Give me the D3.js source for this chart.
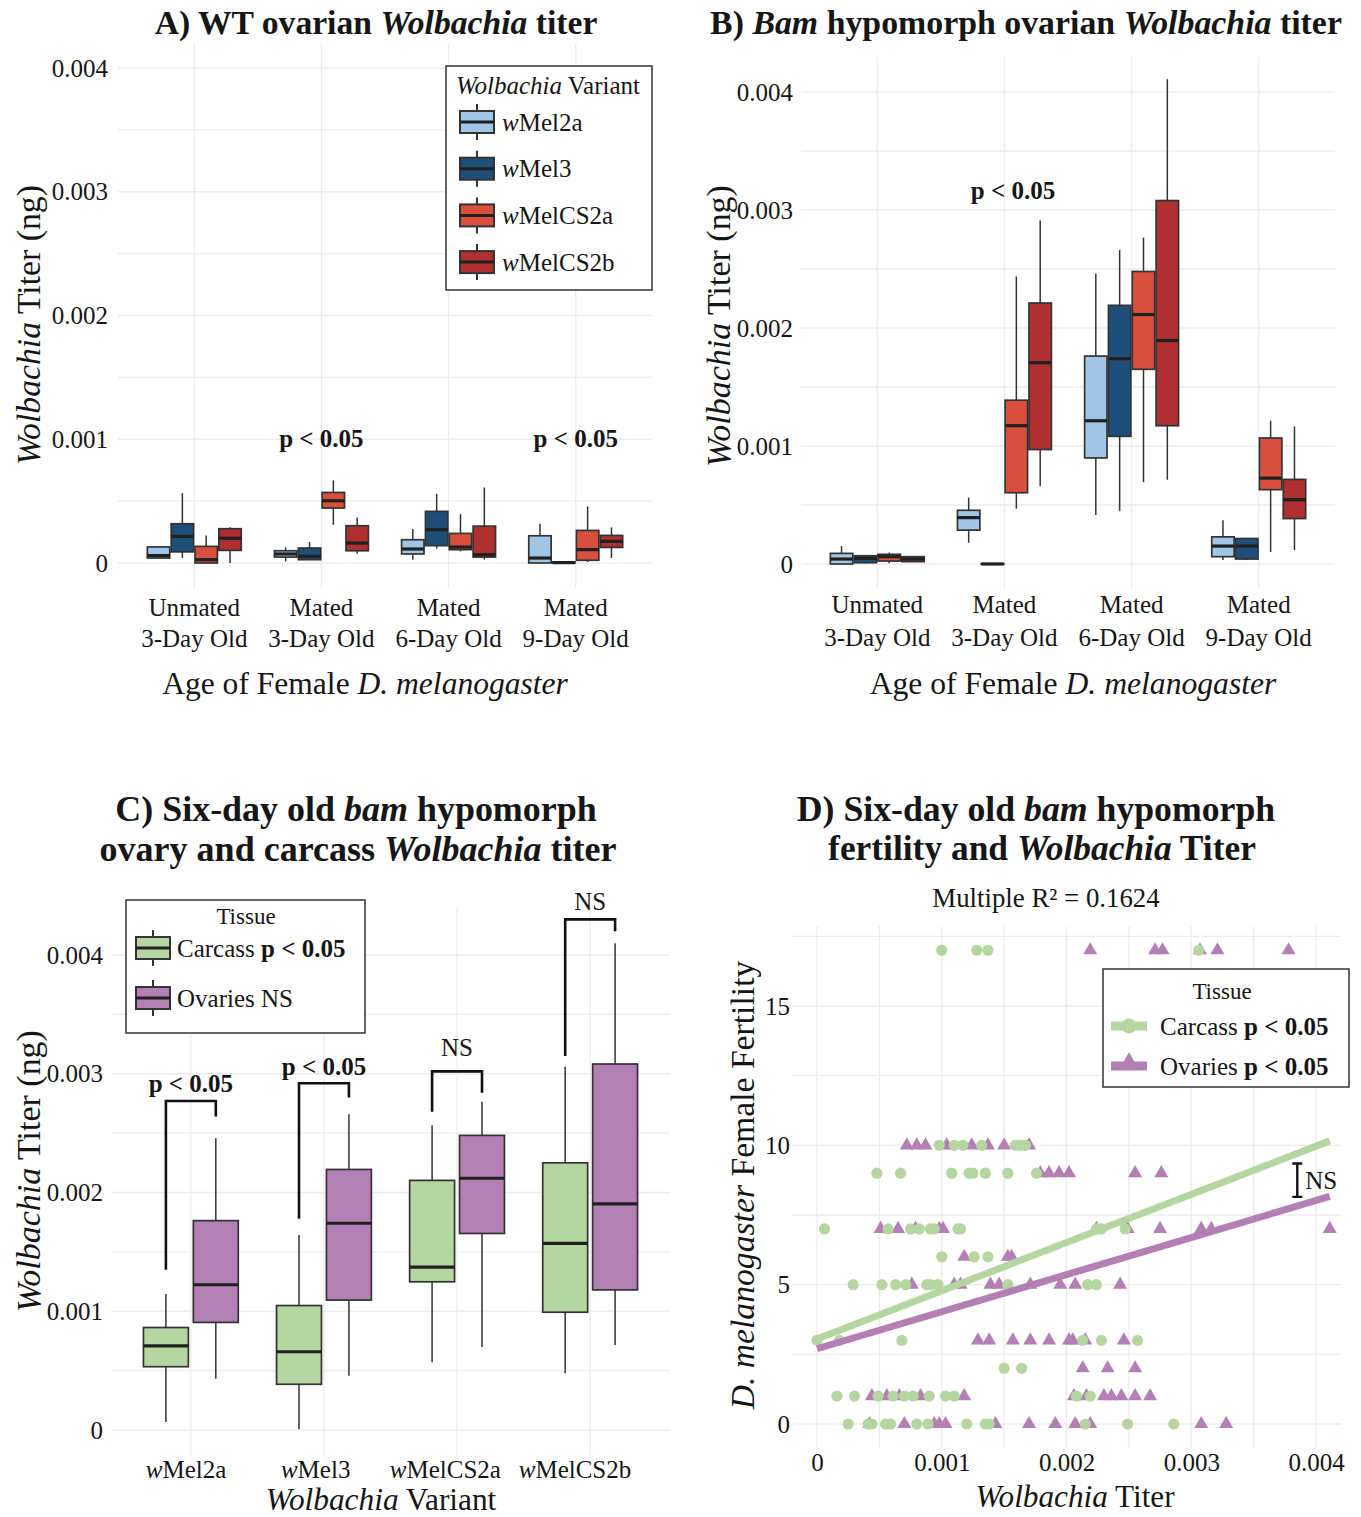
<!DOCTYPE html>
<html>
<head>
<meta charset="utf-8">
<script src="https://cdn.jsdelivr.net/npm/d3@7"></script>
<style>
  body { margin: 0; background: #fff; }
  svg { display: block; }
</style>
</head>
<body>
<script>
// ---- data ----
const ageLabels = [["Unmated", "3-Day Old"], ["Mated", "3-Day Old"], ["Mated", "6-Day Old"], ["Mated", "9-Day Old"]];
const variants = ["wMel2a", "wMel3", "wMelCS2a", "wMelCS2b"];
const tissues = ["Carcass", "Ovaries"];
const titerTicks = [0, 0.001, 0.002, 0.003, 0.004];
const fertilityTicks = [0, 5, 10, 15];

// box stats per variant: [lower whisker, q1, median, q3, upper whisker] (ng)
const wtUnmated3 = [
  [0.00004, 0.00004, 0.00006, 0.00013, 0.00013],
  [0.00004, 0.00009, 0.000215, 0.000317, 0.000565],
  [0, 0, 0.000027, 0.000134, 0.000223],
  [0, 0.000102, 0.0002, 0.000277, 0.000288]
];
const wtMated3 = [
  [0.000013, 0.000048, 0.000073, 0.000099, 0.000126],
  [0.000027, 0.000027, 0.000054, 0.000121, 0.000169],
  [0.000309, 0.000444, 0.000503, 0.00057, 0.000667],
  [0.000075, 0.000099, 0.000161, 0.000301, 0.000368]
];
const wtMated6 = [
  [0.000027, 0.000073, 0.000113, 0.000188, 0.000274],
  [0.000116, 0.00014, 0.000269, 0.000417, 0.000559],
  [0.000094, 0.000108, 0.000129, 0.000239, 0.000395],
  [0.000027, 0.000048, 0.000067, 0.000298, 0.00061]
];
const wtMated9 = [
  [0, 0, 0.00004, 0.00022, 0.000317],
  [0, 0, 0.000003, 0.000008, 0.000008],
  [0.000008, 0.000022, 0.000108, 0.000263, 0.000457],
  [0.00004, 0.000126, 0.000175, 0.000223, 0.000288]
];

const bamUnmated3 = [
  [0, 0, 0.000042, 0.00009, 0.000152],
  [0.000005, 0.000011, 0.000048, 0.00007, 0.00007],
  [0.000006, 0.000025, 0.000062, 0.000082, 0.000098],
  [0.00002, 0.00002, 0.000042, 0.000062, 0.000062]
];
const bamMated3 = [
  [0.00018, 0.000287, 0.000393, 0.000455, 0.000562],
  [0, 0, 0, 0.000003, 0.000003],
  [0.000469, 0.000604, 0.001172, 0.001388, 0.002437],
  [0.000658, 0.00097, 0.001706, 0.002212, 0.002912]
];
const bamMated6 = [
  [0.000416, 0.000899, 0.001214, 0.001762, 0.002462],
  [0.00045, 0.001082, 0.00174, 0.002192, 0.002662],
  [0.000694, 0.00165, 0.002114, 0.002479, 0.002766],
  [0.000714, 0.001172, 0.001894, 0.00308, 0.004109]
];
const bamMated9 = [
  [0.000034, 0.000062, 0.000152, 0.00023, 0.000371],
  [0.000034, 0.000042, 0.000152, 0.000216, 0.000216],
  [0.000101, 0.00063, 0.000728, 0.001068, 0.001214],
  [0.000118, 0.000385, 0.000545, 0.000717, 0.001166]
];

// panel C, per variant
const carcassStats = [
  [0.000068, 0.000533, 0.000709, 0.000863, 0.001146],
  [0.000006, 0.000385, 0.000659, 0.001048, 0.001643],
  [0.00057, 0.001248, 0.001371, 0.002102, 0.002567],
  [0.000478, 0.000992, 0.001572, 0.00225, 0.00306]
];
const ovaryStats = [
  [0.000431, 0.000906, 0.001223, 0.001763, 0.002456],
  [0.000456, 0.001094, 0.001741, 0.002194, 0.002659],
  [0.0007, 0.001655, 0.00212, 0.002481, 0.002764],
  [0.000715, 0.00118, 0.001904, 0.003082, 0.004099]
];
const cTestLabels = ["p < 0.05", "p < 0.05", "NS", "NS"];
const cBracketTop = [0.00277, 0.00292, 0.00302, 0.0043];
const cBracketLeftEnd = [0.00135, 0.00178, 0.00268, 0.00315];
const cBracketRightEnd = [0.00264, 0.0028, 0.00284, 0.0042];
const cLabelAt = [0.00292, 0.00306, 0.003225, 0.00445];

// panel D: titers (ng) for each fertility level
const fertilityLevels = [17, 10, 9, 7, 6, 5, 3, 2, 1, 0];
const carcassTiters = [
  [0.00100, 0.00128, 0.00137, 0.00306],
  [0.00098, 0.00110, 0.00117, 0.00132, 0.00159, 0.00163, 0.00167],
  [0.00048, 0.00067, 0.00108, 0.00122, 0.00125, 0.00135, 0.00153, 0.00176],
  [0.00006, 0.00057, 0.00075, 0.00082, 0.00091, 0.00094, 0.00113, 0.00115, 0.00224, 0.00228, 0.00247],
  [0.00100, 0.00126, 0.00137],
  [0.00029, 0.00052, 0.00063, 0.00071, 0.00088, 0.00091, 0.00097, 0.00153, 0.00217, 0.00224],
  [0.00000, 0.00018, 0.00068, 0.00213, 0.00228, 0.00257],
  [0.00150, 0.00164],
  [0.00016, 0.00030, 0.00049, 0.00061, 0.00070, 0.00077, 0.00090, 0.00103, 0.00110, 0.00208, 0.00219],
  [0.00025, 0.00041, 0.00044, 0.00055, 0.00059, 0.00080, 0.00089, 0.00120, 0.00135, 0.00138, 0.00215, 0.00249, 0.00286]
];
const ovaryTiters = [
  [0.00219, 0.00271, 0.00277, 0.00307, 0.00321, 0.00378],
  [0.00072, 0.00080, 0.00087, 0.00104, 0.00124, 0.00137, 0.00150, 0.00170],
  [0.00179, 0.00186, 0.00194, 0.00202, 0.00255, 0.00276],
  [0.00051, 0.00065, 0.00079, 0.00098, 0.00101, 0.00224, 0.00249, 0.00275, 0.00308, 0.00316, 0.00411],
  [0.00118, 0.00153, 0.00156],
  [0.00076, 0.00110, 0.00115, 0.00139, 0.00146, 0.00171, 0.00195, 0.00207, 0.00243],
  [0.00129, 0.00138, 0.00157, 0.00171, 0.00186, 0.00202, 0.00205, 0.00215, 0.00246],
  [0.00213, 0.00233, 0.00255],
  [0.00044, 0.00056, 0.00066, 0.00083, 0.00118, 0.00206, 0.00216, 0.00230, 0.00236, 0.00244, 0.00255, 0.00267],
  [0.00042, 0.00070, 0.00094, 0.00098, 0.00103, 0.00143, 0.00170, 0.00191, 0.00207, 0.00219, 0.00308, 0.00328]
];
// fitted lines: fertility = intercept + slope * titer
const fitIntercept = [3.05, 2.70];
const fitSlope = [1730, 1330];
const rSquared = 0.1624;
const nsBar = [0.00385, 8.15, 9.35];

// ---- style ----
const SERIF = '"Liberation Serif", "Times New Roman", serif';
const INK = "#161616";
const GRID = "#ebebeb";
const EDGE = "#333";
const variantColors = ["#9fc6e7", "#1f4f78", "#d94f3e", "#b0302f"];
const tissueColors = ["#b5d6a0", "#b47fb4"];
const fmtTiter = d => d === 0 ? "0" : d3.format(".3f")(d);

const svg = d3.select("body").append("svg").attr("width", 1361).attr("height", 1517);
svg.append("rect").attr("width", 1361).attr("height", 1517).attr("fill", "#fff");

// text with italic / bold pieces, centred on (x, y)
function rich(g, x, y, parts, o) {
  const t = g.append("text").attr("x", x).attr("y", y).attr("dy", "0.35em")
    .attr("font-family", SERIF).attr("font-size", o.size).attr("fill", INK)
    .attr("text-anchor", o.anchor || "middle")
    .attr("font-weight", o.bold ? "bold" : "normal");
  if (o.rotate) t.attr("transform", `rotate(-90,${x},${y})`);
  parts.forEach(p => {
    const s = t.append("tspan").text(p[0]);
    if ((p[1] || "").includes("i")) s.attr("font-style", "italic");
    if ((p[1] || "").includes("b")) s.attr("font-weight", "bold");
  });
  if (o.fit) {
    const w = t.node().getBBox().width;
    t.attr("font-size", o.size * o.fit / w);
  }
  return t;
}
const wLabel = v => [["w", "i"], [v.slice(1), ""]];

function boxPanel(o) {
  const g = svg.append("g");
  const x = d3.scaleBand().domain(d3.range(o.stats.length)).range(o.xr).paddingInner(0).paddingOuter(0.1);
  const step = x.step();
  const sub = d3.scaleBand().domain(d3.range(o.colors.length)).range([-o.dodge * step / 2, o.dodge * step / 2]);
  const y = d3.scaleLinear().domain([0, 0.004]).range(o.yr);
  const centre = i => x(i) + x.bandwidth() / 2;
  const subCentre = (i, j) => centre(i) + sub(j) + sub.bandwidth() / 2;

  g.selectAll("line.hg").data(d3.range(0, o.yMax + 1e-9, 0.0005)).join("line").attr("class", "hg")
    .attr("x1", o.xr[0]).attr("x2", o.xr[1]).attr("y1", d => y(d)).attr("y2", d => y(d))
    .attr("stroke", GRID).attr("stroke-width", 1.3);
  g.selectAll("line.vg").data(d3.range(o.stats.length)).join("line").attr("class", "vg")
    .attr("x1", centre).attr("x2", centre).attr("y1", y(o.yMin)).attr("y2", y(o.yMax))
    .attr("stroke", GRID).attr("stroke-width", 1.3);

  const boxes = o.stats.flatMap((grp, i) => grp.map((s, j) => ({ i, j, s })));
  const bw = sub.bandwidth() * o.boxFrac;
  const bg = g.selectAll("g.box").data(boxes).join("g").attr("class", "box");
  bg.append("line").attr("x1", d => subCentre(d.i, d.j)).attr("x2", d => subCentre(d.i, d.j))
    .attr("y1", d => y(d.s[4])).attr("y2", d => y(d.s[3])).attr("stroke", EDGE).attr("stroke-width", 1.5);
  bg.append("line").attr("x1", d => subCentre(d.i, d.j)).attr("x2", d => subCentre(d.i, d.j))
    .attr("y1", d => y(d.s[1])).attr("y2", d => y(d.s[0])).attr("stroke", EDGE).attr("stroke-width", 1.5);
  bg.append("rect").attr("x", d => subCentre(d.i, d.j) - bw / 2).attr("width", bw)
    .attr("y", d => y(d.s[3])).attr("height", d => Math.max(0.5, y(d.s[1]) - y(d.s[3])))
    .attr("fill", d => o.colors[d.j]).attr("stroke", EDGE).attr("stroke-width", 1.7);
  bg.append("line").attr("x1", d => subCentre(d.i, d.j) - bw / 2).attr("x2", d => subCentre(d.i, d.j) + bw / 2)
    .attr("y1", d => y(d.s[2])).attr("y2", d => y(d.s[2])).attr("stroke", "#202020").attr("stroke-width", 3.2);

  const ax = g.append("g").attr("transform", `translate(${o.xr[0]},0)`)
    .call(d3.axisLeft(y).tickValues(titerTicks).tickSize(0).tickPadding(o.pad).tickFormat(fmtTiter));
  ax.select(".domain").remove();
  ax.selectAll("text").attr("font-family", SERIF).attr("font-size", 25).attr("fill", INK);

  return { g, x, y, centre, subCentre };
}

function legendKey(g, cx, cy, color) {
  g.append("line").attr("x1", cx).attr("x2", cx).attr("y1", cy - 18).attr("y2", cy + 18)
    .attr("stroke", EDGE).attr("stroke-width", 2);
  g.append("rect").attr("x", cx - 17).attr("y", cy - 11).attr("width", 34).attr("height", 22)
    .attr("fill", color).attr("stroke", EDGE).attr("stroke-width", 2);
  g.append("line").attr("x1", cx - 17).attr("x2", cx + 17).attr("y1", cy).attr("y2", cy)
    .attr("stroke", "#202020").attr("stroke-width", 3);
}

// ---- panel A ----
const A = boxPanel({ stats: [wtUnmated3, wtMated3, wtMated6, wtMated9], colors: variantColors,
  xr: [118, 652], yr: [563, 68], yMin: -0.0002, yMax: 0.0042, dodge: 0.75, boxFrac: 0.94, pad: 10 });
ageLabels.forEach((l, i) => {
  rich(A.g, A.centre(i), 607, [[l[0]]], { size: 25 });
  rich(A.g, A.centre(i), 638, [[l[1]]], { size: 25 });
});
rich(A.g, A.centre(1), 438, [["p < 0.05"]], { size: 25, bold: true });
rich(A.g, A.centre(3), 438, [["p < 0.05"]], { size: 25, bold: true });
rich(svg, 376, 22, [["A) WT ovarian "], ["Wolbachia", "i"], [" titer"]], { size: 29, bold: true, fit: 443 });
rich(svg, 365, 683, [["Age of Female "], ["D. melanogaster", "i"]], { size: 28, fit: 406 });
rich(svg, 28, 325, [["Wolbachia", "i"], [" Titer (ng)"]], { size: 28, rotate: true, fit: 280 });

const lgA = svg.append("g");
lgA.append("rect").attr("x", 446).attr("y", 66).attr("width", 206).attr("height", 224)
  .attr("fill", "#fff").attr("stroke", EDGE).attr("stroke-width", 1.5);
rich(lgA, 456, 85, [["Wolbachia", "i"], [" Variant"]], { size: 25, anchor: "start" });
variants.forEach((v, i) => {
  const cy = 122 + i * 46.7;
  legendKey(lgA, 477, cy, variantColors[i]);
  rich(lgA, 502, cy, wLabel(v), { size: 25, anchor: "start" });
});

// ---- panel B ----
const B = boxPanel({ stats: [bamUnmated3, bamMated3, bamMated6, bamMated9], colors: variantColors,
  xr: [801, 1335], yr: [564, 92], yMin: -0.00021, yMax: 0.0043, dodge: 0.75, boxFrac: 0.94, pad: 8 });
ageLabels.forEach((l, i) => {
  rich(B.g, B.centre(i), 604, [[l[0]]], { size: 25 });
  rich(B.g, B.centre(i), 637, [[l[1]]], { size: 25 });
});
rich(B.g, 1013, 190, [["p < 0.05"]], { size: 25, bold: true });
rich(svg, 1026, 22, [["B) "], ["Bam", "i"], [" hypomorph ovarian "], ["Wolbachia", "i"], [" titer"]], { size: 29, bold: true, fit: 632 });
rich(svg, 1073, 683, [["Age of Female "], ["D. melanogaster", "i"]], { size: 28, fit: 407 });
rich(svg, 718, 326, [["Wolbachia", "i"], [" Titer (ng)"]], { size: 28, rotate: true, fit: 282 });

// ---- panel C ----
const C = boxPanel({ stats: variants.map((v, i) => [carcassStats[i], ovaryStats[i]]), colors: tissueColors,
  xr: [111, 670], yr: [1430, 955], yMin: -0.00021, yMax: 0.0044, dodge: 0.75, boxFrac: 0.9, pad: 8 });
const cLabelX = d3.scalePoint().domain(variants).range([186, 575]);
variants.forEach(v => rich(C.g, cLabelX(v), 1469, wLabel(v), { size: 25 }));
variants.forEach((v, i) => {
  const lx = C.subCentre(i, 0), rx = C.subCentre(i, 1);
  C.g.append("path")
    .attr("d", `M${lx},${C.y(cBracketLeftEnd[i])}V${C.y(cBracketTop[i])}H${rx}V${C.y(cBracketRightEnd[i])}`)
    .attr("fill", "none").attr("stroke", "#111").attr("stroke-width", 2.6);
  rich(C.g, (lx + rx) / 2, C.y(cLabelAt[i]), [[cTestLabels[i]]], { size: 25, bold: cTestLabels[i] !== "NS" });
});
rich(svg, 356, 808, [["C) Six-day old "], ["bam", "i"], [" hypomorph"]], { size: 30, bold: true, fit: 482 });
rich(svg, 358, 848, [["ovary and carcass "], ["Wolbachia", "i"], [" titer"]], { size: 30, bold: true, fit: 517 });
rich(svg, 381, 1499, [["Wolbachia", "i"], [" Variant"]], { size: 28, fit: 231 });
rich(svg, 28, 1171, [["Wolbachia", "i"], [" Titer (ng)"]], { size: 28, rotate: true, fit: 282 });

const lgC = svg.append("g");
lgC.append("rect").attr("x", 126).attr("y", 900).attr("width", 239).attr("height", 133)
  .attr("fill", "#fff").attr("stroke", EDGE).attr("stroke-width", 1.5);
rich(lgC, 246, 916, [["Tissue"]], { size: 23 });
legendKey(lgC, 153, 948, tissueColors[0]);
rich(lgC, 177, 948, [["Carcass "], ["p < 0.05", "b"]], { size: 25, anchor: "start" });
legendKey(lgC, 153, 998, tissueColors[1]);
rich(lgC, 177, 998, [["Ovaries NS"]], { size: 25, anchor: "start" });

// ---- panel D ----
const gD = svg.append("g");
const xD = d3.scaleLinear().domain([0, 0.004]).range([817, 1316]);
const yD = d3.scaleLinear().domain([0, 15]).range([1424, 1006]);
const xExt = [-0.0002, 0.0042], yExt = [-0.85, 17.85];
gD.selectAll("line.hg").data(d3.range(0, 17.6, 2.5)).join("line").attr("class", "hg")
  .attr("x1", xD(xExt[0])).attr("x2", xD(xExt[1])).attr("y1", d => yD(d)).attr("y2", d => yD(d))
  .attr("stroke", GRID).attr("stroke-width", 1.3);
gD.selectAll("line.vg").data(d3.range(0, 0.004 + 1e-9, 0.0005)).join("line").attr("class", "vg")
  .attr("x1", d => xD(d)).attr("x2", d => xD(d)).attr("y1", yD(yExt[0])).attr("y2", yD(yExt[1]))
  .attr("stroke", GRID).attr("stroke-width", 1.3);

const toPoints = rows => rows.flatMap((r, k) => r.map(t => ({ t, f: fertilityLevels[k] })));
const ovaryPts = toPoints(ovaryTiters), carcassPts = toPoints(carcassTiters);
const tri = d3.symbol(d3.symbolTriangle, 85);
gD.selectAll("path.ov").data(ovaryPts).join("path").attr("class", "ov")
  .attr("d", tri).attr("transform", d => `translate(${xD(d.t)},${yD(d.f)})`).attr("fill", tissueColors[1]);
gD.selectAll("circle.ca").data(carcassPts).join("circle").attr("class", "ca")
  .attr("cx", d => xD(d.t)).attr("cy", d => yD(d.f)).attr("r", 5.6).attr("fill", tissueColors[0]);

const allT = ovaryPts.concat(carcassPts).map(d => d.t);
const tRange = d3.extent(allT);
tissues.forEach((tname, k) => {
  const line = d3.line().x(t => xD(t)).y(t => yD(fitIntercept[k] + fitSlope[k] * t));
  gD.append("path").attr("d", line(tRange)).attr("fill", "none")
    .attr("stroke", tissueColors[k]).attr("stroke-width", 7);
});
const nx = xD(nsBar[0]);
gD.append("path")
  .attr("d", `M${nx},${yD(nsBar[1])}V${yD(nsBar[2])}M${nx - 5},${yD(nsBar[1])}H${nx + 5}M${nx - 5},${yD(nsBar[2])}H${nx + 5}`)
  .attr("stroke", "#111").attr("stroke-width", 2.4).attr("fill", "none");
rich(gD, nx + 8, yD((nsBar[1] + nsBar[2]) / 2), [["NS"]], { size: 25, anchor: "start" });

const axDx = gD.append("g").attr("transform", `translate(0,${yD(yExt[0])})`)
  .call(d3.axisBottom(xD).tickValues(titerTicks).tickSize(0).tickPadding(6).tickFormat(fmtTiter));
axDx.select(".domain").remove();
axDx.selectAll("text").attr("font-family", SERIF).attr("font-size", 25).attr("fill", INK);
const axDy = gD.append("g").attr("transform", `translate(${xD(xExt[0])},0)`)
  .call(d3.axisLeft(yD).tickValues(fertilityTicks).tickSize(0).tickPadding(2));
axDy.select(".domain").remove();
axDy.selectAll("text").attr("font-family", SERIF).attr("font-size", 25).attr("fill", INK);

rich(svg, 1036, 808, [["D) Six-day old "], ["bam", "i"], [" hypomorph"]], { size: 30, bold: true, fit: 479 });
rich(svg, 1042, 848, [["fertility and "], ["Wolbachia", "i"], [" Titer"]], { size: 30, bold: true, fit: 428 });
rich(svg, 1046, 898, [["Multiple R\u00b2 = " + rSquared]], { size: 25, fit: 228 });
rich(svg, 1075, 1496, [["Wolbachia", "i"], [" Titer"]], { size: 28, fit: 200 });
rich(svg, 742, 1185, [["D. melanogaster", "i"], [" Female Fertility"]], { size: 28, rotate: true, fit: 450 });

const lgD = svg.append("g");
lgD.append("rect").attr("x", 1103).attr("y", 969).attr("width", 246).attr("height", 118)
  .attr("fill", "#fff").attr("stroke", EDGE).attr("stroke-width", 1.5);
rich(lgD, 1222, 991, [["Tissue"]], { size: 23 });
[["Carcass ", "p < 0.05"], ["Ovaries ", "p < 0.05"]].forEach((lab, k) => {
  const cy = 1026 + k * 40;
  lgD.append("line").attr("x1", 1111).attr("x2", 1147).attr("y1", cy).attr("y2", cy)
    .attr("stroke", tissueColors[k]).attr("stroke-width", 9);
  if (k === 0) lgD.append("circle").attr("cx", 1129).attr("cy", cy).attr("r", 7.5).attr("fill", tissueColors[0]);
  else lgD.append("path").attr("d", d3.symbol(d3.symbolTriangle, 150)).attr("transform", `translate(1129,${cy - 3})`).attr("fill", tissueColors[1]);
  rich(lgD, 1160, cy, [[lab[0]], [lab[1], "b"]], { size: 25, anchor: "start" });
});
</script>
</body>
</html>
